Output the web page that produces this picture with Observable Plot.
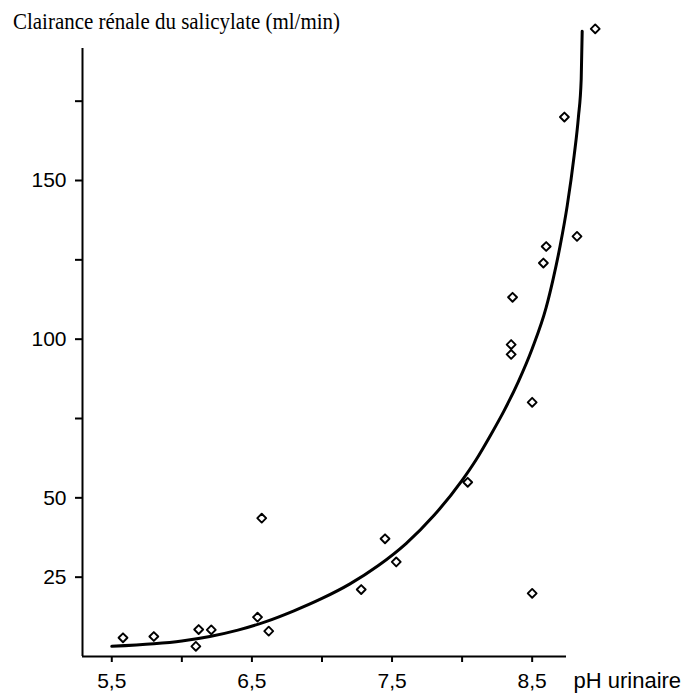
<!DOCTYPE html>
<html>
<head>
<meta charset="utf-8">
<script src="https://cdn.jsdelivr.net/npm/d3@7"></script>
<script src="https://cdn.jsdelivr.net/npm/@observablehq/plot@0.6"></script>
<style>
  html, body { margin: 0; padding: 0; background: #fff; }
  #wrap { position: relative; width: 685px; height: 693px; }
  #title { position: absolute; left: 12.7px; top: 11.2px; font-family: "Liberation Serif", "Times New Roman", serif; font-size: 22.5px; line-height: 1; white-space: nowrap; color: #000; transform-origin: 0 0; }
</style>
</head>
<body>
<div id="wrap">
  <div id="chart"></div>
  <div id="title">Clairance rénale du salicylate (ml/min)</div>
</div>
<script>
// Observed data points (urinary pH, renal clearance of salicylate ml/min)
const phPoints = [5.58, 5.80, 6.10, 6.12, 6.21, 6.54, 6.57, 6.62, 7.28, 7.45, 7.53, 8.04, 8.35, 8.35, 8.36, 8.50, 8.50, 8.58, 8.60, 8.73, 8.82, 8.95];
const clearance = [5.9, 6.3, 3.2, 8.5, 8.4, 12.4, 43.6, 8.0, 21.1, 37.1, 29.8, 54.9, 95.2, 98.3, 113.2, 80.1, 19.9, 124.0, 129.2, 170.0, 132.4, 197.8];

// Fitted curve
const curvePh  = [5.50, 5.80, 6.00, 6.20, 6.40, 6.60, 6.80, 7.00, 7.20, 7.40, 7.60, 7.80, 8.00, 8.10, 8.20, 8.30, 8.40, 8.50, 8.60, 8.65, 8.70, 8.75, 8.80, 8.83, 8.85, 8.857];
const curveVal = [3.2, 4.0, 4.9, 6.3, 8.3, 11.0, 14.4, 18.3, 22.9, 28.6, 35.6, 44.5, 55.5, 62.0, 69.5, 77.5, 86.5, 97.0, 110.0, 119.0, 129.5, 142.0, 158.0, 170.0, 182.0, 197.0];

// Axis ticks and labels
const xTicks = [5.5, 6, 6.5, 7, 7.5, 8, 8.5];
const xTickLabels = ["5,5", "", "6,5", "", "7,5", "", "8,5"];
const yTicks = [25, 50, 75, 100, 125, 150, 175];
const yTickLabels = ["25", "50", "", "100", "", "150", ""];
const xAxisTitle = "pH urinaire";

const xDomain = [5.291, 8.745];
const yDomain = [0, 191.6];

const points = phPoints.map((p, i) => ({ph: p, cl: clearance[i]}));
const curve = curvePh.map((p, i) => ({ph: p, cl: curveVal[i]}));

const plot = Plot.plot({
  width: 685,
  height: 693,
  marginLeft: 82,
  marginRight: 119,
  marginTop: 48,
  marginBottom: 37,
  style: {fontFamily: "'Liberation Sans', Arial, sans-serif", color: "#000", background: "#fff"},
  x: {domain: xDomain},
  y: {domain: yDomain},
  marks: [
    Plot.axisX({ticks: xTicks, tickFormat: d => xTickLabels[xTicks.indexOf(d)], tickSize: 6, tickPadding: 11, fontSize: 21, strokeWidth: 2, label: null}),
    Plot.axisY({ticks: yTicks, tickFormat: d => yTickLabels[yTicks.indexOf(d)], tickSize: 7, tickPadding: 9, fontSize: 21, strokeWidth: 2, label: null}),
    Plot.ruleX([xDomain[0]], {stroke: "#000", strokeWidth: 2}),
    Plot.ruleY([yDomain[0]], {stroke: "#000", strokeWidth: 2}),
    Plot.line(curve, {x: "ph", y: "cl", curve: "monotone-x", stroke: "#000", strokeWidth: 3}),
    Plot.dot(points, {x: "ph", y: "cl", symbol: "diamond2", r: 4, stroke: "#000", strokeWidth: 1.9, strokeLinejoin: "round", fill: "none"}),
    Plot.text([xAxisTitle], {frameAnchor: "bottom-right", dx: 7, dy: 31.5, textAnchor: "start", fontSize: 22, fill: "#000"})
  ]
});
document.getElementById("chart").appendChild(plot);

// condense title to match the reference width
const t = document.getElementById("title");
const w = t.getBoundingClientRect().width;
t.style.transform = `scaleX(${327 / w})`;
</script>
</body>
</html>
